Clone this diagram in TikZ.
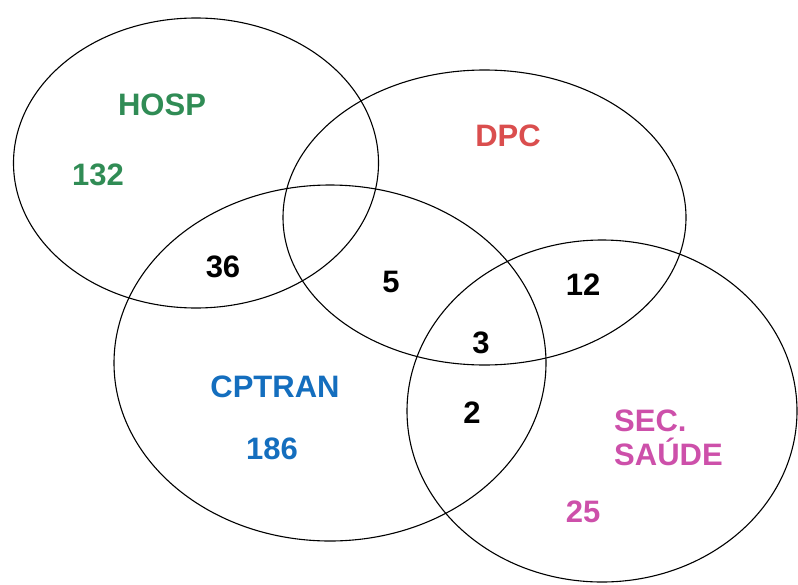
\documentclass[tikz,border=0pt]{standalone}
\usepackage{fontspec}
\setmainfont{Liberation Sans}
\usetikzlibrary{shapes.geometric}
\definecolor{hospgreen}{RGB}{48,140,85}
\definecolor{dpcred}{RGB}{218,78,78}
\definecolor{cpblue}{RGB}{20,110,190}
\definecolor{secpink}{RGB}{205,80,170}
\begin{document}
\begin{tikzpicture}[x=1pt,y=-1pt,
  set/.style={draw=black,line width=1.1pt,ellipse,inner sep=0pt},
  lab/.style={font=\fontsize{31}{34}\selectfont\bfseries,inner sep=0pt}]
\useasboundingbox (0,0) rectangle (798,584);
\node[set,minimum width=365pt,minimum height=290pt] (hosp) at (196,163) {};
\node[set,minimum width=403pt,minimum height=295pt] (dpc) at (484.5,217.5) {};
\node[set,minimum width=432pt,minimum height=356pt] (cptran) at (330,363) {};
\node[set,minimum width=390pt,minimum height=342pt] (sec) at (602,411) {};
\node[lab,text=hospgreen] (thosp) at (162,105) {HOSP};
\node[lab,text=hospgreen] (n132) at (98,175) {132};
\node[lab,text=dpcred] (tdpc) at (508,136) {DPC};
\node[lab,text=cpblue] (tcp) at (275,387) {CPTRAN};
\node[lab,text=cpblue] (n186) at (272,449) {186};
\node[lab,text=secpink,align=left,anchor=west] (tsec) at (614,438) {SEC.\\SAÚDE};
\node[lab,text=secpink] (n25) at (583,512) {25};
\node[lab] (n36) at (223,267) {36};
\node[lab] (n5) at (391,282) {5};
\node[lab] (n12) at (583,285) {12};
\node[lab] (n3) at (481,343) {3};
\node[lab] (n2) at (472,413) {2};
\end{tikzpicture}
\end{document}
